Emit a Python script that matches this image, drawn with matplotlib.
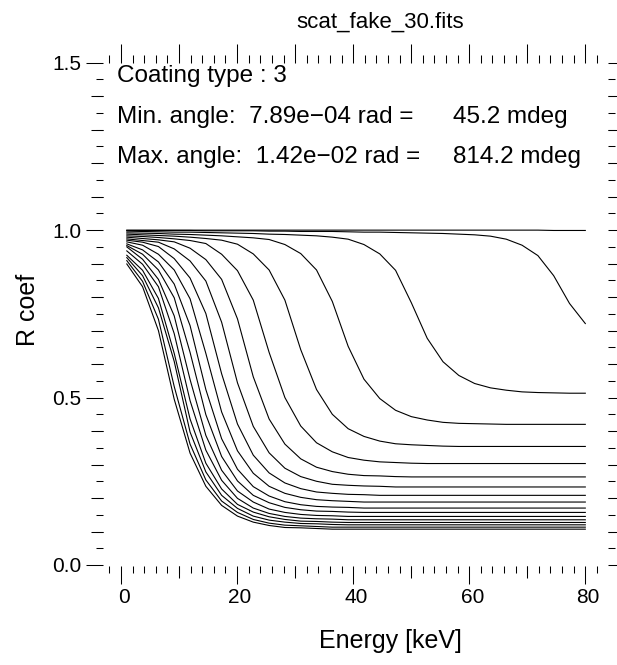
import matplotlib
matplotlib.use("Agg")
import matplotlib.pyplot as plt
from matplotlib.ticker import MultipleLocator, FixedLocator, NullFormatter
from matplotlib.transforms import ScaledTranslation

plt.rcParams['font.family'] = ['Liberation Sans', 'DejaVu Sans']

# energy grid [keV]
energy = [1.0, 3.72, 6.45, 9.17, 11.90, 14.62, 17.34, 20.07, 22.79, 25.52,
          28.24, 30.97, 33.69, 36.41, 39.14, 41.86, 44.59, 47.31, 50.03, 52.76,
          55.48, 58.21, 60.93, 63.66, 66.38, 69.10, 71.83, 74.55, 77.28, 80.0]

# reflectivity, one list per grazing angle (smallest angle first)
r01 = [1.000, 1.000, 1.000, 1.000, 1.000, 1.000, 1.000, 1.000, 1.000, 1.000,
       1.000, 1.000, 1.000, 1.000, 1.000, 1.000, 1.000, 1.000, 1.000, 1.000,
       1.000, 1.000, 1.000, 1.000, 1.000, 1.000, 1.000, 0.999, 0.999, 0.999]
r02 = [0.999, 0.999, 0.999, 0.999, 0.999, 0.998, 0.998, 0.998, 0.998, 0.997,
       0.997, 0.996, 0.996, 0.996, 0.995, 0.994, 0.994, 0.993, 0.992, 0.991,
       0.990, 0.988, 0.986, 0.982, 0.973, 0.955, 0.924, 0.864, 0.781, 0.721]
r03 = [0.997, 0.996, 0.995, 0.994, 0.994, 0.993, 0.992, 0.991, 0.990, 0.988,
       0.987, 0.985, 0.983, 0.979, 0.973, 0.957, 0.929, 0.880, 0.783, 0.677,
       0.607, 0.566, 0.542, 0.529, 0.522, 0.517, 0.515, 0.514, 0.513, 0.513]
r04 = [0.992, 0.991, 0.990, 0.988, 0.987, 0.985, 0.983, 0.980, 0.977, 0.972,
       0.957, 0.930, 0.881, 0.787, 0.653, 0.555, 0.497, 0.462, 0.443, 0.433,
       0.426, 0.423, 0.422, 0.421, 0.420, 0.420, 0.420, 0.420, 0.420, 0.420]
r05 = [0.988, 0.986, 0.984, 0.982, 0.979, 0.975, 0.970, 0.958, 0.929, 0.881,
       0.791, 0.643, 0.524, 0.450, 0.407, 0.384, 0.370, 0.362, 0.359, 0.357,
       0.355, 0.354, 0.354, 0.354, 0.354, 0.354, 0.354, 0.354, 0.354, 0.354]
r06 = [0.983, 0.981, 0.978, 0.974, 0.969, 0.960, 0.928, 0.879, 0.791, 0.635,
       0.500, 0.415, 0.365, 0.338, 0.321, 0.313, 0.308, 0.306, 0.304, 0.303,
       0.303, 0.303, 0.303, 0.303, 0.303, 0.303, 0.303, 0.303, 0.303, 0.303]
r07 = [0.979, 0.975, 0.971, 0.965, 0.946, 0.912, 0.853, 0.735, 0.562, 0.436,
       0.361, 0.317, 0.292, 0.279, 0.271, 0.267, 0.266, 0.264, 0.263, 0.263,
       0.263, 0.263, 0.263, 0.263, 0.263, 0.263, 0.263, 0.263, 0.263, 0.263]
r08 = [0.974, 0.969, 0.964, 0.944, 0.908, 0.848, 0.725, 0.544, 0.414, 0.335,
       0.289, 0.264, 0.250, 0.241, 0.238, 0.236, 0.235, 0.233, 0.233, 0.233,
       0.233, 0.233, 0.233, 0.233, 0.233, 0.233, 0.233, 0.233, 0.233, 0.233]
r09 = [0.970, 0.964, 0.951, 0.915, 0.857, 0.751, 0.571, 0.421, 0.328, 0.275,
       0.245, 0.228, 0.218, 0.214, 0.211, 0.210, 0.208, 0.208, 0.208, 0.208,
       0.208, 0.208, 0.208, 0.208, 0.208, 0.208, 0.208, 0.208, 0.208, 0.208]
r10 = [0.965, 0.955, 0.928, 0.881, 0.795, 0.632, 0.457, 0.341, 0.274, 0.235,
       0.214, 0.202, 0.195, 0.192, 0.190, 0.188, 0.188, 0.188, 0.188, 0.188,
       0.188, 0.188, 0.188, 0.188, 0.188, 0.188, 0.188, 0.188, 0.188, 0.188]
r11 = [0.959, 0.941, 0.905, 0.839, 0.715, 0.524, 0.377, 0.286, 0.234, 0.206,
       0.189, 0.180, 0.175, 0.173, 0.172, 0.170, 0.170, 0.170, 0.170, 0.170,
       0.170, 0.170, 0.170, 0.170, 0.170, 0.170, 0.170, 0.170, 0.170, 0.170]
r12 = [0.954, 0.928, 0.881, 0.798, 0.635, 0.449, 0.324, 0.251, 0.208, 0.186,
       0.172, 0.165, 0.161, 0.160, 0.158, 0.157, 0.157, 0.157, 0.157, 0.157,
       0.157, 0.157, 0.157, 0.157, 0.157, 0.157, 0.157, 0.157, 0.157, 0.157]
r13 = [0.950, 0.913, 0.853, 0.744, 0.554, 0.387, 0.283, 0.221, 0.188, 0.167,
       0.157, 0.151, 0.148, 0.147, 0.145, 0.145, 0.145, 0.145, 0.145, 0.145,
       0.145, 0.145, 0.145, 0.145, 0.145, 0.145, 0.145, 0.145, 0.145, 0.145]
r14 = [0.938, 0.898, 0.831, 0.691, 0.491, 0.343, 0.253, 0.199, 0.170, 0.154,
       0.145, 0.140, 0.138, 0.137, 0.135, 0.135, 0.135, 0.135, 0.135, 0.135,
       0.135, 0.135, 0.135, 0.135, 0.135, 0.135, 0.135, 0.135, 0.135, 0.135]
r15 = [0.925, 0.880, 0.796, 0.632, 0.436, 0.304, 0.227, 0.181, 0.158, 0.144,
       0.136, 0.131, 0.130, 0.128, 0.127, 0.127, 0.127, 0.127, 0.127, 0.127,
       0.127, 0.127, 0.127, 0.127, 0.127, 0.127, 0.127, 0.127, 0.127, 0.127]
r16 = [0.918, 0.864, 0.768, 0.608, 0.397, 0.278, 0.208, 0.169, 0.146, 0.134,
       0.128, 0.124, 0.123, 0.121, 0.120, 0.120, 0.120, 0.120, 0.120, 0.120,
       0.120, 0.120, 0.120, 0.120, 0.120, 0.120, 0.120, 0.120, 0.120, 0.120]
r17 = [0.909, 0.847, 0.734, 0.533, 0.361, 0.254, 0.191, 0.157, 0.136, 0.125,
       0.119, 0.117, 0.115, 0.113, 0.113, 0.113, 0.113, 0.113, 0.113, 0.113,
       0.113, 0.113, 0.113, 0.113, 0.113, 0.113, 0.113, 0.113, 0.113, 0.113]
r18 = [0.899, 0.831, 0.700, 0.495, 0.334, 0.235, 0.178, 0.146, 0.128, 0.118,
       0.112, 0.111, 0.109, 0.107, 0.107, 0.107, 0.107, 0.107, 0.107, 0.107,
       0.107, 0.107, 0.107, 0.107, 0.107, 0.107, 0.107, 0.107, 0.107, 0.107]

curves = [r01, r02, r03, r04, r05, r06, r07, r08, r09, r10,
          r11, r12, r13, r14, r15, r16, r17, r18]

title = "scat_fake_30.fits"
info_left = ["Coating type : 3",
             "Min. angle:  7.89e\u221204 rad =",
             "Max. angle:  1.42e\u221202 rad ="]
info_right = ["", "45.2 mdeg", "814.2 mdeg"]

W, H = 617, 665
fig = plt.figure(figsize=(W / 100, H / 100), dpi=100)
# plot box in pixels: x 103..608, y 62.7..566
pos = [103 / W, 1 - 566 / H, 505 / W, (566 - 62.7) / H]
ax = fig.add_axes(pos)

for r in curves:
    ax.plot(energy, r, color="black", lw=0.8)

xlim = (-3.10, 83.91)
ylim = (-0.003, 1.5)
ax.set_xlim(xlim)
ax.set_ylim(ylim)
for s in ax.spines.values():
    s.set_visible(False)

ax.xaxis.set_major_locator(FixedLocator([0, 20, 40, 60, 80]))
ax.xaxis.set_minor_locator(MultipleLocator(2))
ax.yaxis.set_major_locator(FixedLocator([0.0, 0.5, 1.0, 1.5]))
ax.yaxis.set_minor_locator(MultipleLocator(0.05))
ax.yaxis.set_major_formatter(plt.FormatStrFormatter("%.1f"))
ax.tick_params(which="both", direction="out", top=False, right=True,
               width=0.75, colors="black", labelsize=15)
ax.tick_params(which="major", length=12.6, pad=3)
ax.tick_params(which="minor", length=5)
# x labels sit a little right of their ticks
shift = ScaledTranslation(3 / 100, 0, fig.dpi_scale_trans)
for lab in ax.get_xticklabels():
    lab.set_transform(lab.get_transform() + shift)

# medium ticks (every 10 keV / 0.1) on an overlaid axes
ax2 = fig.add_axes(pos, frameon=False)
ax2.set_xlim(xlim)
ax2.set_ylim(ylim)
ax2.xaxis.set_major_locator(FixedLocator([10, 30, 50, 70]))
ax2.yaxis.set_major_locator(FixedLocator([0.1, 0.2, 0.3, 0.4, 0.6, 0.7, 0.8, 0.9,
                                          1.1, 1.2, 1.3, 1.4]))
ax2.xaxis.set_major_formatter(NullFormatter())
ax2.yaxis.set_major_formatter(NullFormatter())
ax2.tick_params(which="both", direction="out", top=False, right=True,
                width=0.75, length=8.6, colors="black")

# top axis: equal ticks every 10, minor every 2
ax3 = fig.add_axes(pos, frameon=False)
ax3.set_xlim(xlim)
ax3.set_ylim(ylim)
ax3.xaxis.tick_top()
ax3.xaxis.set_major_locator(MultipleLocator(10))
ax3.xaxis.set_minor_locator(MultipleLocator(2))
ax3.xaxis.set_major_formatter(NullFormatter())
ax3.tick_params(axis="x", which="major", length=13.5, width=0.75, direction="out")
ax3.tick_params(axis="x", which="minor", length=5.5, width=0.75, direction="out")
ax3.tick_params(axis="y", left=False, right=False, labelleft=False)

fig.text(380 / W, 1 - 22 / H, title, ha="center", va="center", fontsize=16)
fig.text(390 / W, 1 - 641 / H, "Energy [keV]", ha="center", va="center", fontsize=18)
fig.text(28 / W, 1 - 310 / H, "R coef", ha="center", va="center", fontsize=18,
         rotation=90)

for i in range(3):
    yy = 1 - (76 + 40.5 * i) / H
    fig.text(117 / W, yy, info_left[i], ha="left", va="center", fontsize=17.5)
    fig.text(453 / W, yy, info_right[i], ha="left", va="center", fontsize=17.5)

fig.savefig("out.png", dpi=100)
